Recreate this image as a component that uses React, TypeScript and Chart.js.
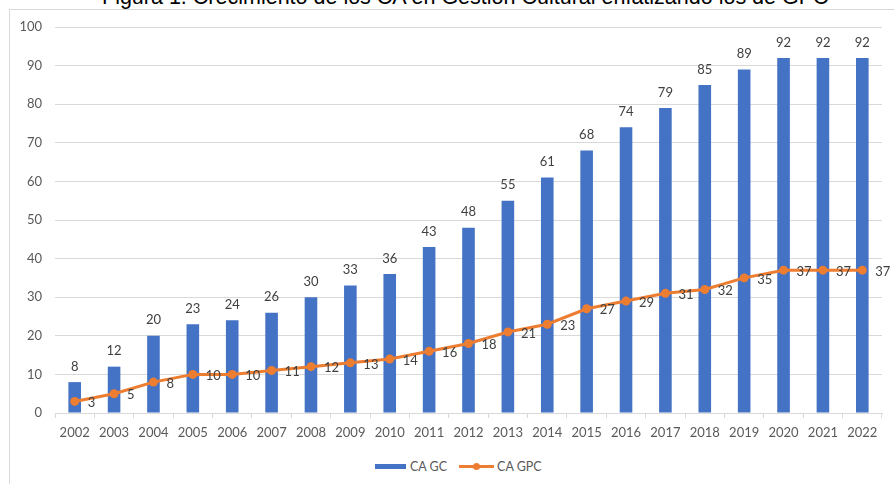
import React, { useEffect, useRef } from 'react';
import { Chart, registerables } from 'chart.js';

Chart.register(...registerables);

const titleText = 'Figura 1. Crecimiento de los CA en Gestión Cultural enfatizando los de GPC';
const years = ['2002', '2003', '2004', '2005', '2006', '2007', '2008', '2009', '2010', '2011', '2012', '2013', '2014', '2015', '2016', '2017', '2018', '2019', '2020', '2021', '2022'];
const caGC = [8, 12, 20, 23, 24, 26, 30, 33, 36, 43, 48, 55, 61, 68, 74, 79, 85, 89, 92, 92, 92];
const caGPC = [3, 5, 8, 10, 10, 11, 12, 13, 14, 16, 18, 21, 23, 27, 29, 31, 32, 35, 37, 37, 37];
const seriesNames = ['CA GC', 'CA GPC'];
const yMin = 0;
const yMax = 100;
const yStep = 10;

const BLUE = '#4472C4';
const ORANGE = '#ED7D31';
const FONT = 'Lato, "Liberation Sans", sans-serif';

const valueLabels = {
  id: 'valueLabels',
  afterDatasetsDraw(chart: any) {
    const ctx = chart.ctx;
    ctx.save();
    ctx.font = `13px ${FONT}`;
    ctx.fillStyle = '#404040';
    const barMeta = chart.getDatasetMeta(0);
    ctx.textAlign = 'center';
    ctx.textBaseline = 'middle';
    barMeta.data.forEach((el: any, i: number) => {
      ctx.fillText(String(caGC[i]), el.x, el.y - 15.5);
    });
    const lineMeta = chart.getDatasetMeta(1);
    ctx.textAlign = 'left';
    lineMeta.data.forEach((el: any, i: number) => {
      ctx.fillText(String(caGPC[i]), el.x + 13, el.y + 1.5);
    });
    ctx.restore();
  },
};

export default function App() {
  const ref = useRef<HTMLCanvasElement>(null);

  useEffect(() => {
    if (!ref.current) return;
    const chart = new Chart(ref.current, {
      type: 'bar',
      data: {
        labels: years,
        datasets: [
          {
            type: 'bar',
            label: seriesNames[0],
            data: caGC,
            backgroundColor: BLUE,
            borderWidth: 0,
            barPercentage: 0.32,
            categoryPercentage: 1,
            order: 1,
          },
          {
            type: 'line',
            label: seriesNames[1],
            data: caGPC,
            borderColor: ORANGE,
            backgroundColor: ORANGE,
            borderWidth: 3,
            pointRadius: 4.5,
            pointBackgroundColor: ORANGE,
            pointBorderWidth: 0,
            tension: 0,
            order: 0,
          } as any,
        ],
      },
      options: {
        responsive: false,
        animation: false,
        layout: { padding: { top: 27, right: 12, left: 0, bottom: 0 } },
        plugins: {
          legend: { display: false },
          tooltip: { enabled: false },
          title: { display: false },
        },
        scales: {
          x: {
            grid: {
              display: true,
              drawOnChartArea: false,
              drawTicks: true,
              tickLength: 5,
              offset: true,
              color: '#d9d9d9',
            },
            border: { display: true, color: '#d9d9d9', width: 1 },
            ticks: {
              color: '#595959',
              font: { family: FONT, size: 13 },
              padding: 7,
              maxRotation: 0,
              autoSkip: false,
            },
            afterFit: (scale: any) => {
              scale.height = 37;
            },
          },
          y: {
            min: yMin,
            max: yMax,
            grid: { color: '#d9d9d9', drawTicks: false },
            border: { display: false },
            ticks: {
              stepSize: yStep,
              color: '#595959',
              font: { family: FONT, size: 13 },
              padding: 13,
            },
            afterFit: (scale: any) => {
              scale.width = 55;
            },
          },
        },
      },
      plugins: [valueLabels],
    });
    return () => chart.destroy();
  }, []);

  return (
    <div style={{ position: 'absolute', left: 0, top: 0, width: 894, height: 484, overflow: 'hidden', background: '#fff' }}>
      <div style={{ position: 'absolute', left: 9, top: 9, width: 950, height: 550, border: '1px solid #d9d9d9' }} />
      <div
        style={{
          position: 'absolute',
          left: 102,
          top: -13,
          whiteSpace: 'nowrap',
          fontFamily: '"Liberation Sans", Arial, sans-serif',
          fontSize: 21.5,
          lineHeight: '21.5px',
          color: '#000',
        }}
      >
        {titleText}
      </div>
      <canvas ref={ref} width={894} height={450} style={{ position: 'absolute', left: 0, top: 0, display: 'block' }} />
      <div
        style={{
          position: 'absolute',
          left: 375,
          top: 458,
          height: 16,
          display: 'flex',
          alignItems: 'center',
          fontFamily: FONT,
          fontSize: 12.5,
          color: '#595959',
          whiteSpace: 'nowrap',
        }}
      >
        <span style={{ display: 'inline-block', width: 31, height: 5, background: BLUE, marginRight: 4 }} />
        <span style={{ marginRight: 12 }}>{seriesNames[0]}</span>
        <span style={{ position: 'relative', display: 'inline-block', width: 35, height: 9, marginRight: 3 }}>
          <span style={{ position: 'absolute', left: 0, top: 3, width: 35, height: 3, background: ORANGE }} />
          <span style={{ position: 'absolute', left: 14, top: 1, width: 7, height: 7, borderRadius: '50%', background: ORANGE }} />
        </span>
        <span>{seriesNames[1]}</span>
      </div>
    </div>
  );
}
